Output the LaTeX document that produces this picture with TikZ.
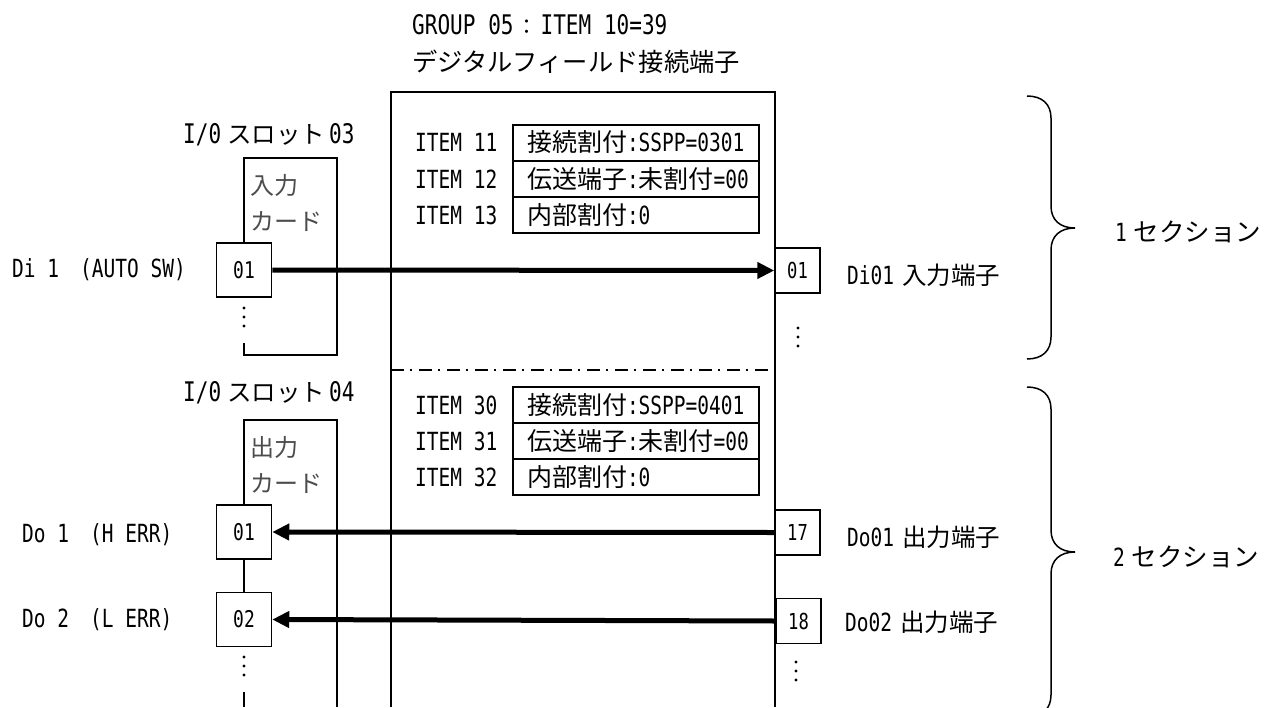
\documentclass[tikz,border=0pt]{standalone}
\usepackage{fontspec}
\setmainfont[FakeStretch=0.78]{DejaVu Sans Mono}
\newfontfamily\jpfont{Noto Sans CJK JP}
\newcommand\J[1]{{\jpfont #1}}
\newcommand\JB[1]{{\fontsize{24.5pt}{26pt}\selectfont\jpfont #1}}
\usetikzlibrary{arrows.meta}
\begin{document}
\begin{tikzpicture}[x=1pt,y=-1pt,
  every node/.style={font=\fontsize{25pt}{27pt}\selectfont},
  thin line/.style={line width=1.5pt},
  txt/.style={anchor=west,inner sep=0pt},
  pinbox/.style={draw,line width=1.5pt,minimum width=55pt,minimum height=54pt,inner sep=0pt,font=\fontsize{23pt}{24pt}\selectfont},
  termbox/.style={draw,line width=1.5pt,minimum width=45pt,minimum height=45pt,inner sep=0pt,font=\fontsize{22pt}{24pt}\selectfont},
  rowbox/.style={draw,line width=2pt,minimum width=246pt,minimum height=36pt,inner sep=0pt,text width=218pt,align=left},
  sig/.style={line width=5pt,-{Triangle[length=17pt,width=16pt]}},
  cardtxt/.style={anchor=west,inner sep=0pt,text=black!70,font=\fontsize{24pt}{26pt}\selectfont},
  slottxt/.style={anchor=west,inner sep=0pt,font=\fontsize{27pt}{29pt}\selectfont}
]
\useasboundingbox (0,0) rectangle (1280,707);
\fill[white] (0,0) rectangle (1280,707);

% titles
\node[txt,font=\fontsize{27pt}{29pt}\selectfont] (title1) at (412,25) {GROUP 05\hspace{3pt}{\fontsize{21pt}{23pt}\selectfont\jpfont ：}\hspace{3pt}ITEM 10=39};
\node[txt] (title2) at (412,62) {{\fontsize{25.3pt}{27pt}\selectfont\jpfont デジタルフィールド接続端子}};

% main box
\draw[thin line] (391,707) -- (391,92) -- (775,92) -- (775,707);
\draw[thin line,dash pattern=on 13pt off 6pt on 2pt off 7pt] (391,370) -- (775,370);

% item tables
\node[txt] (it11) at (415,142.5) {ITEM 11};
\node[txt] (it12) at (415,179) {ITEM 12};
\node[txt] (it13) at (415,215) {ITEM 13};
\node[rowbox] (r11) at (636,142.5) {\J{接続割付}:SSPP=0301};
\node[rowbox] (r12) at (636,179) {\J{伝送端子}:\J{未割付}=00};
\node[rowbox] (r13) at (636,215) {\J{内部割付}:0};

\node[txt] (it30) at (415,405) {ITEM 30};
\node[txt] (it31) at (415,441) {ITEM 31};
\node[txt] (it32) at (415,477) {ITEM 32};
\node[rowbox] (r30) at (636,405) {\J{接続割付}:SSPP=0401};
\node[rowbox] (r31) at (636,441) {\J{伝送端子}:\J{未割付}=00};
\node[rowbox] (r32) at (636,477) {\J{内部割付}:0};

% slot 03 (input card)
\node[slottxt] (slot3) at (183,135) {I/0\hspace{6pt}\JB{スロット}\hspace{4pt}03};
\node[pinbox] (in01) at (244,270) {01};
\draw[thin line] (in01.north) -- (244,158) -- (337,158) -- (337,355) -- (244,355) -- (244,343);
\node[cardtxt] (card1a) at (250,185) {\J{入力}};
\node[cardtxt] (card1b) at (250,222) {\J{カード}};
\foreach \yy in {308,317,326} \fill (244,\yy) circle (1.6pt);
\node[txt] (di1) at (12,270) {Di 1\hspace{21pt}(AUTO SW)};

% slot 04 (output card)
\node[slottxt] (slot4) at (183,393) {I/0\hspace{6pt}\JB{スロット}\hspace{4pt}04};
\node[pinbox] (out01) at (244,532) {01};
\node[pinbox] (out02) at (244,619.5) {02};
\draw[thin line] (out01.north) -- (244,420) -- (337,420) -- (337,707);
\draw[thin line] (out01.south) -- (out02.north);
\draw[thin line] (244,692) -- (244,707);
\node[cardtxt] (card2a) at (250,447) {\J{出力}};
\node[cardtxt] (card2b) at (250,484) {\J{カード}};
\foreach \yy in {657,666,675} \fill (244,\yy) circle (1.6pt);
\node[txt] (do1) at (22,535) {Do 1\hspace{21pt}(H ERR)};
\node[txt] (do2) at (22,620) {Do 2\hspace{21pt}(L ERR)};

% terminals
\node[termbox] (t01) at (797.5,270.5) {01};
\node[termbox] (t17) at (797.5,532.5) {17};
\node[termbox] (t18) at (798.5,621) {18};
\foreach \yy in {328,337,346} \fill (798,\yy) circle (1.6pt);
\foreach \yy in {662,671,680} \fill (796,\yy) circle (1.6pt);
\node[txt] (lt01) at (847,275) {Di01\hspace{8pt}\JB{入力端子}};
\node[txt] (lt17) at (847,537) {Do01\hspace{8pt}\JB{出力端子}};
\node[txt] (lt18) at (845,622) {Do02\hspace{8pt}\JB{出力端子}};

% signals
\draw[sig] (in01.east) -- (t01.west);
\draw[sig] (t17.west) -- (out01.east);
\draw[sig] (t18.west) -- (out02.east);

% braces
\draw[thin line] (1027,96) .. controls (1042,96) and (1051,104) .. (1051,118) -- (1051,206)
  .. controls (1051,220) and (1060,228) .. (1075,228)
  .. controls (1060,228) and (1051,236) .. (1051,250) -- (1051,337)
  .. controls (1051,351) and (1042,359) .. (1027,359);
\draw[thin line] (1027,387) .. controls (1042,387) and (1051,395) .. (1051,409) -- (1051,530)
  .. controls (1051,544) and (1060,552) .. (1075,552)
  .. controls (1060,552) and (1051,560) .. (1051,574) -- (1051,695)
  .. controls (1051,709) and (1042,717) .. (1027,717);
\node[txt] (sec1) at (1115,232) {1\hspace{7pt}{\fontsize{25.5pt}{27pt}\selectfont\jpfont セクション}};
\node[txt] (sec2) at (1113,557) {2\hspace{7pt}{\fontsize{25.5pt}{27pt}\selectfont\jpfont セクション}};
\end{tikzpicture}
\end{document}
